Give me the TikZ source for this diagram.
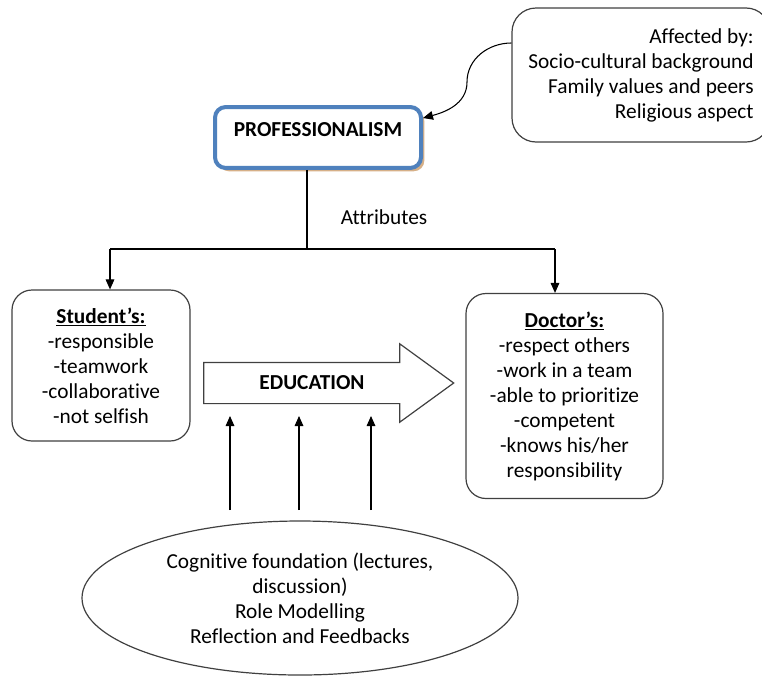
\documentclass[tikz,border=0pt]{standalone}
\usepackage{fontspec}
\setmainfont{Carlito}[Ligatures=NoCommon]
\usetikzlibrary{shapes.geometric, shapes.arrows, shadows, arrows.meta}
\definecolor{profblue}{RGB}{79,129,189}
\definecolor{shadowtan}{RGB}{214,176,136}
\definecolor{boxgray}{RGB}{64,64,64}
\tikzset{
  roundbox/.style={draw=boxgray, line width=0.9pt, rounded corners=15pt, align=center, fill=white},
  profbox/.style={draw=profblue, line width=3pt, rounded corners=8pt, fill=white,
    drop shadow={shadow xshift=2.5pt, shadow yshift=-2.5pt, fill=shadowtan, opacity=1}},
  eduarrow/.style={single arrow, draw=boxgray, line width=0.9pt, inner ysep=15pt, single arrow head extend=13.9pt,
    single arrow tip angle=72, minimum height=187.5pt, minimum width=57.75pt},
  linkarrow/.style={-{Triangle[length=7.5pt,width=6.5pt]}, line width=0.8pt},
}

\begin{document}
\begin{tikzpicture}[x=0.75pt, y=0.75pt, font=\fontsize{16}{18.75}\selectfont]
  \useasboundingbox (0,0) rectangle (762,-675);
  % boxes
  \node (aff)  [roundbox, rounded corners=18pt, align=right, minimum width=193.5pt, minimum height=100.5pt]
               at (641,-75) {Affected by:\\Socio-cultural background\\Family values and peers\\Religious aspect};
  \node (prof) [profbox, anchor=base, inner ysep=0pt, text height=22.4pt, text depth=23.3pt, minimum width=154.5pt]
               at (318,-136.9) {\textbf{PROFESSIONALISM}};
  \node (attr) at (384,-217) {Attributes};
  \node (stud) [roundbox, minimum width=133.5pt, minimum height=113.25pt]
               at (101,-365.5) {\textbf{\underline{Student’s:}}\\-responsible\\-teamwork\\-collaborative\\-not selfish};
  \node (doc)  [roundbox, minimum width=147.75pt, minimum height=153.75pt]
               at (564.5,-396) {\textbf{\underline{Doctor’s:}}\\-respect others\\-work in a team\\-able to prioritize\\-competent\\-knows his/her\\responsibility};
  \node (edu)  [eduarrow, label={[xshift=-1.9pt]center:\textbf{EDUCATION}}] at (314.5,-383) {};
  \node (ell)  [ellipse, draw=boxgray, line width=0.9pt, minimum width=327pt, minimum height=115.5pt, align=center]
               at (300,-598) {Cognitive foundation (lectures,\\discussion)\\Role Modelling\\Reflection and Feedbacks};
  % connectors
  \coordinate (bend)  at (467,-82);
  \coordinate (split) at (307,-249);
  \coordinate (lft)   at (110,-249);
  \coordinate (rgt)   at (555,-249);
  \draw[linkarrow] ([yshift=24pt]aff.west) to[out=180, in=90] (bend) to[out=-90, in=15] ([yshift=14.6pt]prof.east);
  \draw[line width=0.8pt] (prof.south -| split) -- (split);
  \draw[line width=0.8pt] (lft) -- (rgt);
  \draw[linkarrow] (lft) -- (lft |- stud.north);
  \draw[linkarrow] (rgt) -- (rgt |- doc.north);
  \foreach \x [count=\i] in {230,299,371} {
    \coordinate (up\i) at (\x,-510);
    \draw[linkarrow] (up\i) -- ++(0,94);
  }
\end{tikzpicture}
\end{document}
